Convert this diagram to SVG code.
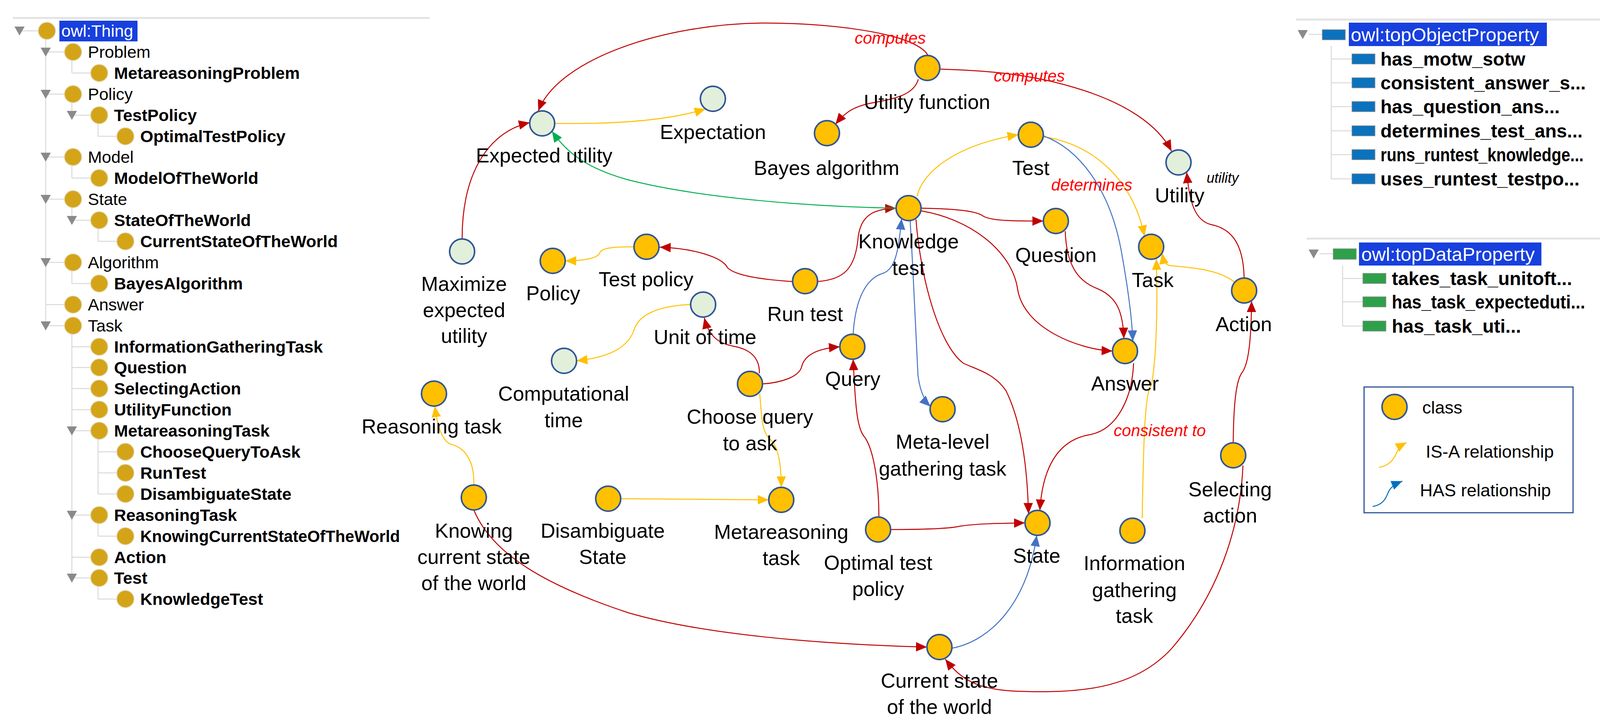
<svg xmlns="http://www.w3.org/2000/svg" width="4259" height="1854" viewBox="0 0 4259 1854">
<style>
text{font-family:"Liberation Sans",Arial,sans-serif;}
.tn{font-size:43px;fill:#000}
.tb{font-size:43px;font-weight:bold;fill:#000}
.tc{fill:#D4A418;stroke:#e0d6b0;stroke-width:2}
.tl{stroke:#d9d9d9;stroke-width:2.5;fill:none}
.tri{fill:#8a8a8a}
.hl{fill:#1740DE}
.hlt{font-size:49px;fill:#fff}
.pt{font-size:48px;font-weight:bold;fill:#000}
.ob{fill:#0B72BE;stroke:#8c8c8c;stroke-width:1.5}
.db{fill:#2EA04A;stroke:#8c8c8c;stroke-width:1.5}
.gl{stroke:#e3e3e3;stroke-width:5}
.n{fill:#FFC000;stroke:#2F5597;stroke-width:4}
.g{fill:#E2EFDA;stroke:#2F5597;stroke-width:4}
.lb{font-size:52px;text-anchor:middle;fill:#000}
.rel{font-size:42px;font-style:italic;fill:#FF0000;text-anchor:middle}
.er{fill:none;stroke:#C00000;stroke-width:2.5;marker-end:url(#ar)}
.ey{fill:none;stroke:#FFC000;stroke-width:2.5;marker-end:url(#ay)}
.eb{fill:none;stroke:#4472C4;stroke-width:2.5;marker-end:url(#ab)}
.eg{fill:none;stroke:#00B050;stroke-width:2.5;marker-end:url(#ag)}
.lg{font-size:45px;fill:#000}
</style>
<defs>
<marker id="ar" markerUnits="userSpaceOnUse" markerWidth="30" markerHeight="26" refX="28" refY="12" orient="auto"><path d="M0,0 L28,12 L0,24 z" fill="#C00000"/></marker>
<marker id="ay" markerUnits="userSpaceOnUse" markerWidth="30" markerHeight="26" refX="28" refY="12" orient="auto"><path d="M0,0 L28,12 L0,24 z" fill="#FFC000"/></marker>
<marker id="ab" markerUnits="userSpaceOnUse" markerWidth="30" markerHeight="26" refX="28" refY="12" orient="auto"><path d="M0,0 L28,12 L0,24 z" fill="#4472C4"/></marker>
<marker id="ag" markerUnits="userSpaceOnUse" markerWidth="30" markerHeight="26" refX="28" refY="12" orient="auto"><path d="M0,0 L28,12 L0,24 z" fill="#00B050"/></marker>
<marker id="al" markerUnits="userSpaceOnUse" markerWidth="30" markerHeight="26" refX="28" refY="12" orient="auto"><path d="M0,0 L28,12 L0,24 z" fill="#0070C0"/></marker>
</defs>
<rect width="4259" height="1854" fill="#fff"/>

<!-- Class hierarchy tree -->
<g id="class-tree">
<line class="gl" x1="33" y1="46" x2="1100" y2="46"/>
<g class="tl-lines">
<line class="tl" x1="117" y1="79" x2="117" y2="834"/>
<line class="tl" x1="184" y1="133" x2="184" y2="187"/>
<line class="tl" x1="184" y1="241" x2="184" y2="295"/>
<line class="tl" x1="184" y1="402" x2="184" y2="456"/>
<line class="tl" x1="184" y1="510" x2="184" y2="564"/>
<line class="tl" x1="184" y1="672" x2="184" y2="726"/>
<line class="tl" x1="184" y1="834" x2="184" y2="1480"/>
<line class="tl" x1="251" y1="295" x2="251" y2="349"/>
<line class="tl" x1="251" y1="564" x2="251" y2="618"/>
<line class="tl" x1="251" y1="1103" x2="251" y2="1265"/>
<line class="tl" x1="251" y1="1319" x2="251" y2="1373"/>
<line class="tl" x1="251" y1="1480" x2="251" y2="1534"/>
<line class="tl" x1="50" y1="79" x2="98" y2="79"/>
<line class="tl" x1="117" y1="133" x2="165" y2="133"/>
<line class="tl" x1="184" y1="187" x2="232" y2="187"/>
<line class="tl" x1="117" y1="241" x2="165" y2="241"/>
<line class="tl" x1="184" y1="295" x2="232" y2="295"/>
<line class="tl" x1="251" y1="349" x2="299" y2="349"/>
<line class="tl" x1="117" y1="402" x2="165" y2="402"/>
<line class="tl" x1="184" y1="456" x2="232" y2="456"/>
<line class="tl" x1="117" y1="510" x2="165" y2="510"/>
<line class="tl" x1="184" y1="564" x2="232" y2="564"/>
<line class="tl" x1="251" y1="618" x2="299" y2="618"/>
<line class="tl" x1="117" y1="672" x2="165" y2="672"/>
<line class="tl" x1="184" y1="726" x2="232" y2="726"/>
<line class="tl" x1="117" y1="780" x2="165" y2="780"/>
<line class="tl" x1="117" y1="834" x2="165" y2="834"/>
<line class="tl" x1="184" y1="888" x2="232" y2="888"/>
<line class="tl" x1="184" y1="941" x2="232" y2="941"/>
<line class="tl" x1="184" y1="995" x2="232" y2="995"/>
<line class="tl" x1="184" y1="1049" x2="232" y2="1049"/>
<line class="tl" x1="184" y1="1103" x2="232" y2="1103"/>
<line class="tl" x1="251" y1="1157" x2="299" y2="1157"/>
<line class="tl" x1="251" y1="1211" x2="299" y2="1211"/>
<line class="tl" x1="251" y1="1265" x2="299" y2="1265"/>
<line class="tl" x1="184" y1="1319" x2="232" y2="1319"/>
<line class="tl" x1="251" y1="1373" x2="299" y2="1373"/>
<line class="tl" x1="184" y1="1427" x2="232" y2="1427"/>
<line class="tl" x1="184" y1="1480" x2="232" y2="1480"/>
<line class="tl" x1="251" y1="1534" x2="299" y2="1534"/>
</g>
<g class="triangles">
<polygon class="tri" points="37,68 63,68 50,91"/>
<polygon class="tri" points="104,122 130,122 117,145"/>
<polygon class="tri" points="104,230 130,230 117,253"/>
<polygon class="tri" points="171,284 197,284 184,307"/>
<polygon class="tri" points="104,391 130,391 117,414"/>
<polygon class="tri" points="104,499 130,499 117,522"/>
<polygon class="tri" points="171,553 197,553 184,576"/>
<polygon class="tri" points="104,661 130,661 117,684"/>
<polygon class="tri" points="104,823 130,823 117,846"/>
<polygon class="tri" points="171,1092 197,1092 184,1115"/>
<polygon class="tri" points="171,1308 197,1308 184,1331"/>
<polygon class="tri" points="171,1469 197,1469 184,1492"/>
</g>
<g id="t-thing"><rect class="hl" x="152" y="53" width="200" height="53"/><circle class="tc" cx="120" cy="79" r="22"/><text class="tn" x="157" y="94" style="fill:#fff">owl:Thing</text></g>
<g id="t-problem"><circle class="tc" cx="187" cy="133" r="22"/><text class="tn" x="225" y="148">Problem</text></g>
<g id="t-mproblem"><circle class="tc" cx="254" cy="187" r="22"/><text class="tb" x="292" y="202">MetareasoningProblem</text></g>
<g id="t-policy"><circle class="tc" cx="187" cy="241" r="22"/><text class="tn" x="225" y="256">Policy</text></g>
<g id="t-testpolicy"><circle class="tc" cx="254" cy="295" r="22"/><text class="tb" x="292" y="310">TestPolicy</text></g>
<g id="t-optimal"><circle class="tc" cx="321" cy="349" r="22"/><text class="tb" x="359" y="364">OptimalTestPolicy</text></g>
<g id="t-model"><circle class="tc" cx="187" cy="402" r="22"/><text class="tn" x="225" y="417">Model</text></g>
<g id="t-motw"><circle class="tc" cx="254" cy="456" r="22"/><text class="tb" x="292" y="471">ModelOfTheWorld</text></g>
<g id="t-state"><circle class="tc" cx="187" cy="510" r="22"/><text class="tn" x="225" y="525">State</text></g>
<g id="t-sotw"><circle class="tc" cx="254" cy="564" r="22"/><text class="tb" x="292" y="579">StateOfTheWorld</text></g>
<g id="t-csotw"><circle class="tc" cx="321" cy="618" r="22"/><text class="tb" x="359" y="633">CurrentStateOfTheWorld</text></g>
<g id="t-algorithm"><circle class="tc" cx="187" cy="672" r="22"/><text class="tn" x="225" y="687">Algorithm</text></g>
<g id="t-bayes"><circle class="tc" cx="254" cy="726" r="22"/><text class="tb" x="292" y="741">BayesAlgorithm</text></g>
<g id="t-answer"><circle class="tc" cx="187" cy="780" r="22"/><text class="tn" x="225" y="795">Answer</text></g>
<g id="t-task"><circle class="tc" cx="187" cy="834" r="22"/><text class="tn" x="225" y="849">Task</text></g>
<g id="t-igt"><circle class="tc" cx="254" cy="888" r="22"/><text class="tb" x="292" y="903">InformationGatheringTask</text></g>
<g id="t-question"><circle class="tc" cx="254" cy="941" r="22"/><text class="tb" x="292" y="956">Question</text></g>
<g id="t-selecting"><circle class="tc" cx="254" cy="995" r="22"/><text class="tb" x="292" y="1010">SelectingAction</text></g>
<g id="t-utilityf"><circle class="tc" cx="254" cy="1049" r="22"/><text class="tb" x="292" y="1064">UtilityFunction</text></g>
<g id="t-mtask"><circle class="tc" cx="254" cy="1103" r="22"/><text class="tb" x="292" y="1118">MetareasoningTask</text></g>
<g id="t-choose"><circle class="tc" cx="321" cy="1157" r="22"/><text class="tb" x="359" y="1172">ChooseQueryToAsk</text></g>
<g id="t-runtest"><circle class="tc" cx="321" cy="1211" r="22"/><text class="tb" x="359" y="1226">RunTest</text></g>
<g id="t-disamb"><circle class="tc" cx="321" cy="1265" r="22"/><text class="tb" x="359" y="1280">DisambiguateState</text></g>
<g id="t-rtask"><circle class="tc" cx="254" cy="1319" r="22"/><text class="tb" x="292" y="1334">ReasoningTask</text></g>
<g id="t-knowing"><circle class="tc" cx="321" cy="1373" r="22"/><text class="tb" x="359" y="1388" textLength="665" lengthAdjust="spacingAndGlyphs">KnowingCurrentStateOfTheWorld</text></g>
<g id="t-action"><circle class="tc" cx="254" cy="1427" r="22"/><text class="tb" x="292" y="1442">Action</text></g>
<g id="t-test"><circle class="tc" cx="254" cy="1480" r="22"/><text class="tb" x="292" y="1495">Test</text></g>
<g id="t-ktest"><circle class="tc" cx="321" cy="1534" r="22"/><text class="tb" x="359" y="1549">KnowledgeTest</text></g>
</g>

<!-- Object property panel -->
<g id="object-properties">
<line class="gl" x1="3318" y1="50" x2="4202" y2="50"/>
<polygon class="tri" points="3322,77 3348,77 3335,100"/>
<line class="tl" x1="3350" y1="88" x2="3385" y2="88"/>
<line class="tl" x1="3408" y1="118" x2="3408" y2="458"/>
<rect class="ob" x="3385" y="76" width="59" height="26"/>
<rect class="hl" x="3453" y="58" width="507" height="60"/>
<text class="hlt" x="3458" y="106">owl:topObjectProperty</text>
<line class="tl" x1="3408" y1="151" x2="3461" y2="151"/><rect class="ob" x="3461" y="138" width="59" height="26"/><text class="pt" x="3534" y="168">has_motw_sotw</text>
<line class="tl" x1="3408" y1="212" x2="3461" y2="212"/><rect class="ob" x="3461" y="199" width="59" height="26"/><text class="pt" x="3534" y="229">consistent_answer_s...</text>
<line class="tl" x1="3408" y1="273" x2="3461" y2="273"/><rect class="ob" x="3461" y="260" width="59" height="26"/><text class="pt" x="3534" y="290">has_question_ans...</text>
<line class="tl" x1="3408" y1="335" x2="3461" y2="335"/><rect class="ob" x="3461" y="322" width="59" height="26"/><text class="pt" x="3534" y="352">determines_test_ans...</text>
<line class="tl" x1="3408" y1="396" x2="3461" y2="396"/><rect class="ob" x="3461" y="383" width="59" height="26"/><text class="pt" x="3534" y="413" textLength="520" lengthAdjust="spacingAndGlyphs">runs_runtest_knowledge...</text>
<line class="tl" x1="3408" y1="458" x2="3461" y2="458"/><rect class="ob" x="3461" y="445" width="59" height="26"/><text class="pt" x="3534" y="475">uses_runtest_testpo...</text>
</g>

<!-- Data property panel -->
<g id="data-properties">
<line class="gl" x1="3345" y1="611" x2="4231" y2="611"/>
<polygon class="tri" points="3350,639 3376,639 3363,662"/>
<line class="tl" x1="3378" y1="650" x2="3413" y2="650"/>
<line class="tl" x1="3437" y1="680" x2="3437" y2="835"/>
<rect class="db" x="3413" y="637" width="59" height="27"/>
<rect class="hl" x="3479" y="621" width="467" height="59"/>
<text class="hlt" x="3485" y="668">owl:topDataProperty</text>
<line class="tl" x1="3437" y1="713" x2="3489" y2="713"/><rect class="db" x="3489" y="700" width="59" height="26"/><text class="pt" x="3563" y="730">takes_task_unitoft...</text>
<line class="tl" x1="3437" y1="773" x2="3489" y2="773"/><rect class="db" x="3489" y="760" width="59" height="26"/><text class="pt" x="3563" y="790" textLength="495" lengthAdjust="spacingAndGlyphs">has_task_expecteduti...</text>
<line class="tl" x1="3437" y1="835" x2="3489" y2="835"/><rect class="db" x="3489" y="822" width="59" height="26"/><text class="pt" x="3563" y="852">has_task_uti...</text>
</g>

<!-- Legend -->
<g id="legend">
<rect x="3492" y="991" width="535" height="322" fill="#fff" stroke="#2F5597" stroke-width="3"/>
<circle class="n" cx="3570" cy="1042" r="32"/>
<text class="lg" x="3641" y="1059">class</text>
<path d="M3530,1197 C3560,1192 3570,1172 3576,1158 C3582,1146 3588,1140 3601,1133" fill="none" stroke="#FFC000" stroke-width="2.5" marker-end="url(#ay)"/>
<text class="lg" x="3650" y="1172">IS-A relationship</text>
<path d="M3514,1297 C3540,1293 3548,1276 3553,1263 C3558,1250 3566,1242 3590,1232" fill="none" stroke="#0070C0" stroke-width="2.5" marker-end="url(#al)"/>
<text class="lg" x="3635" y="1271">HAS relationship</text>
</g>

<!-- Connectors -->
<g id="connectors">
<path class="er" d="M2376,142 C2340,80 2100,58 1950,59 C1700,62 1430,150 1378,284"/>
<path class="er" d="M2408,177 C2500,180 2620,185 2750,224 C2880,262 2965,320 2999,387"/>
<path class="er" d="M2351,203 C2340,240 2300,252 2230,264 C2180,274 2160,292 2139,318"/>
<path class="er" d="M1183,612 C1183,430 1260,335 1356,314"/>
<path class="er" d="M2029,721 C1950,716 1880,705 1862,685 C1850,660 1780,636 1689,633"/>
<path class="er" d="M2093,721 C2160,715 2190,690 2197,606 C2205,548 2240,535 2294,533"/>
<path class="er" d="M2358,533 C2450,535 2500,540 2518,554 C2540,566 2600,566 2671,566"/>
<path class="er" d="M2358,540 C2480,560 2590,640 2605,740 C2620,840 2760,895 2848,899"/>
<path class="er" d="M2345,562 C2355,700 2400,880 2466,930 C2496,945 2545,955 2575,1000 C2615,1080 2630,1200 2633,1316"/>
<path class="er" d="M2727,592 C2730,680 2760,720 2809,739 C2860,760 2875,800 2877,867"/>
<path class="er" d="M1953,983 C2000,980 2045,965 2052,940 C2060,905 2100,892 2150,888"/>
<path class="er" d="M1944,956 C1945,915 1920,895 1880,887 C1840,880 1815,862 1803,814"/>
<path class="er" d="M2250,1324 C2250,1230 2235,1150 2214,1120 C2195,1100 2190,1050 2184,920"/>
<path class="er" d="M2280,1356 C2380,1356 2440,1352 2460,1347 C2500,1341 2560,1340 2624,1339"/>
<path class="er" d="M2902,930 C2898,1020 2860,1100 2790,1113 C2720,1125 2670,1180 2662,1307"/>
<path class="er" d="M3185,712 C3183,620 3150,585 3100,575 C3060,565 3045,520 3038,441"/>
<path class="er" d="M3157,1134 C3158,1030 3165,975 3179,955 C3195,935 3203,880 3204,771"/>
<path class="er" d="M3182,1192 C3175,1350 3120,1520 3000,1660 C2900,1770 2750,1775 2600,1770 C2500,1765 2460,1740 2420,1688"/>
<path class="er" d="M1213,1306 C1260,1420 1400,1500 1608,1569 C1800,1625 2100,1650 2373,1657"/>
<path class="ey" d="M1420,316 C1550,318 1700,312 1806,279"/>
<path class="ey" d="M1623,632 C1560,632 1540,636 1535,648 C1530,662 1490,668 1447,668"/>
<path class="ey" d="M1768,780 C1700,782 1640,800 1625,840 C1610,890 1560,915 1476,924"/>
<path class="ey" d="M2348,503 C2360,440 2450,370 2607,345"/>
<path class="ey" d="M2671,350 C2800,370 2900,460 2930,605"/>
<path class="ey" d="M3160,722 C3120,690 3050,685 2995,680 C2982,678 2978,665 2975,648"/>
<path class="ey" d="M2924,1327 C2927,1150 2930,1000 2948,985 C2963,900 2963,750 2960,663"/>
<path class="ey" d="M1213,1242 C1215,1180 1190,1145 1152,1137 C1130,1125 1120,1090 1113,1040"/>
<path class="ey" d="M1589,1277 L1968,1280"/>
<path class="ey" d="M1945,1009 C1950,1070 1950,1110 1975,1128 C1995,1150 2000,1200 2000,1248"/>
<path class="eb" d="M2184,856 C2190,760 2220,712 2260,700 C2290,690 2300,650 2308,560"/>
<path class="eb" d="M2330,565 C2338,700 2345,850 2350,961 C2355,1000 2365,1025 2382,1041"/>
<path class="eb" d="M2671,348 C2760,380 2840,480 2870,640 C2890,750 2898,820 2900,874"/>
<path class="eb" d="M2437,1660 C2540,1640 2630,1540 2654,1371"/>
<path class="eg" d="M2294,533 C2100,530 1800,510 1606,460 C1500,430 1450,390 1413,336"/>
<text class="rel" x="2279" y="112">computes</text>
<text class="rel" x="2635" y="209">computes</text>
<text class="rel" x="2795" y="488">determines</text>
<text class="rel" x="2969" y="1117">consistent to</text>
<text x="3130" y="468" style="font-size:36px;font-style:italic;text-anchor:middle">utility</text>
</g>

<!-- Graph nodes -->
<g id="n-expected-utility"><circle class="g" cx="1388" cy="316" r="32"/><text class="lb" x="1393" y="416">Expected utility</text></g>
<g id="n-expectation"><circle class="g" cx="1825" cy="253" r="32"/><text class="lb" x="1825" y="356">Expectation</text></g>
<g id="n-utility-function"><circle class="n" cx="2374" cy="174" r="32"/><text class="lb" x="2373" y="279">Utility function</text></g>
<g id="n-bayes"><circle class="n" cx="2117" cy="341" r="32"/><text class="lb" x="2116" y="448">Bayes algorithm</text></g>
<g id="n-test"><circle class="n" cx="2639" cy="345" r="32"/><text class="lb" x="2639" y="448">Test</text></g>
<g id="n-utility"><circle class="g" cx="3017" cy="416" r="32"/><text class="lb" x="3020" y="518">Utility</text></g>
<g id="n-knowledge-test"><circle class="n" cx="2326" cy="533" r="32"/><text class="lb" x="2326" y="636">Knowledge</text><text class="lb" x="2326" y="704">test</text></g>
<g id="n-question"><circle class="n" cx="2703" cy="566" r="32"/><text class="lb" x="2703" y="671">Question</text></g>
<g id="n-task"><circle class="n" cx="2947" cy="632" r="32"/><text class="lb" x="2951" y="735">Task</text></g>
<g id="n-action"><circle class="n" cx="3185" cy="744" r="32"/><text class="lb" x="3184" y="848">Action</text></g>
<g id="n-maximize"><circle class="g" cx="1183" cy="644" r="32"/><text class="lb" x="1188" y="745">Maximize</text><text class="lb" x="1188" y="812">expected</text><text class="lb" x="1188" y="878">utility</text></g>
<g id="n-policy"><circle class="n" cx="1415" cy="668" r="32"/><text class="lb" x="1416" y="769">Policy</text></g>
<g id="n-test-policy"><circle class="n" cx="1655" cy="632" r="32"/><text class="lb" x="1654" y="733">Test policy</text></g>
<g id="n-run-test"><circle class="n" cx="2061" cy="720" r="32"/><text class="lb" x="2061" y="822">Run test</text></g>
<g id="n-unit-of-time"><circle class="g" cx="1800" cy="780" r="32"/><text class="lb" x="1805" y="881">Unit of time</text></g>
<g id="n-query"><circle class="n" cx="2182" cy="888" r="32"/><text class="lb" x="2183" y="988">Query</text></g>
<g id="n-answer"><circle class="n" cx="2880" cy="899" r="32"/><text class="lb" x="2880" y="1000">Answer</text></g>
<g id="n-computational-time"><circle class="g" cx="1444" cy="924" r="32"/><text class="lb" x="1443" y="1026">Computational</text><text class="lb" x="1443" y="1094">time</text></g>
<g id="n-choose-query"><circle class="n" cx="1920" cy="983" r="32"/><text class="lb" x="1920" y="1085">Choose query</text><text class="lb" x="1920" y="1153">to ask</text></g>
<g id="n-reasoning-task"><circle class="n" cx="1111" cy="1008" r="32"/><text class="lb" x="1105" y="1110">Reasoning task</text></g>
<g id="n-meta-level"><circle class="n" cx="2413" cy="1048" r="32"/><text class="lb" x="2413" y="1149">Meta-level</text><text class="lb" x="2413" y="1218">gathering task</text></g>
<g id="n-selecting-action"><circle class="n" cx="3157" cy="1166" r="32"/><text class="lb" x="3149" y="1271">Selecting</text><text class="lb" x="3149" y="1338">action</text></g>
<g id="n-knowing"><circle class="n" cx="1213" cy="1274" r="32"/><text class="lb" x="1213" y="1377">Knowing</text><text class="lb" x="1213" y="1444">current state</text><text class="lb" x="1213" y="1511">of the world</text></g>
<g id="n-disambiguate"><circle class="n" cx="1557" cy="1277" r="32"/><text class="lb" x="1543" y="1377">Disambiguate</text><text class="lb" x="1543" y="1444">State</text></g>
<g id="n-metareasoning-task"><circle class="n" cx="2000" cy="1280" r="32"/><text class="lb" x="2000" y="1380">Metareasoning</text><text class="lb" x="2000" y="1447">task</text></g>
<g id="n-optimal-test-policy"><circle class="n" cx="2248" cy="1356" r="32"/><text class="lb" x="2248" y="1459">Optimal test</text><text class="lb" x="2248" y="1526">policy</text></g>
<g id="n-state"><circle class="n" cx="2656" cy="1339" r="32"/><text class="lb" x="2654" y="1441">State</text></g>
<g id="n-information-gathering"><circle class="n" cx="2899" cy="1359" r="32"/><text class="lb" x="2904" y="1460">Information</text><text class="lb" x="2904" y="1529">gathering</text><text class="lb" x="2904" y="1595">task</text></g>
<g id="n-current-state"><circle class="n" cx="2405" cy="1657" r="32"/><text class="lb" x="2405" y="1761">Current state</text><text class="lb" x="2405" y="1828">of the world</text></g>
</svg>
